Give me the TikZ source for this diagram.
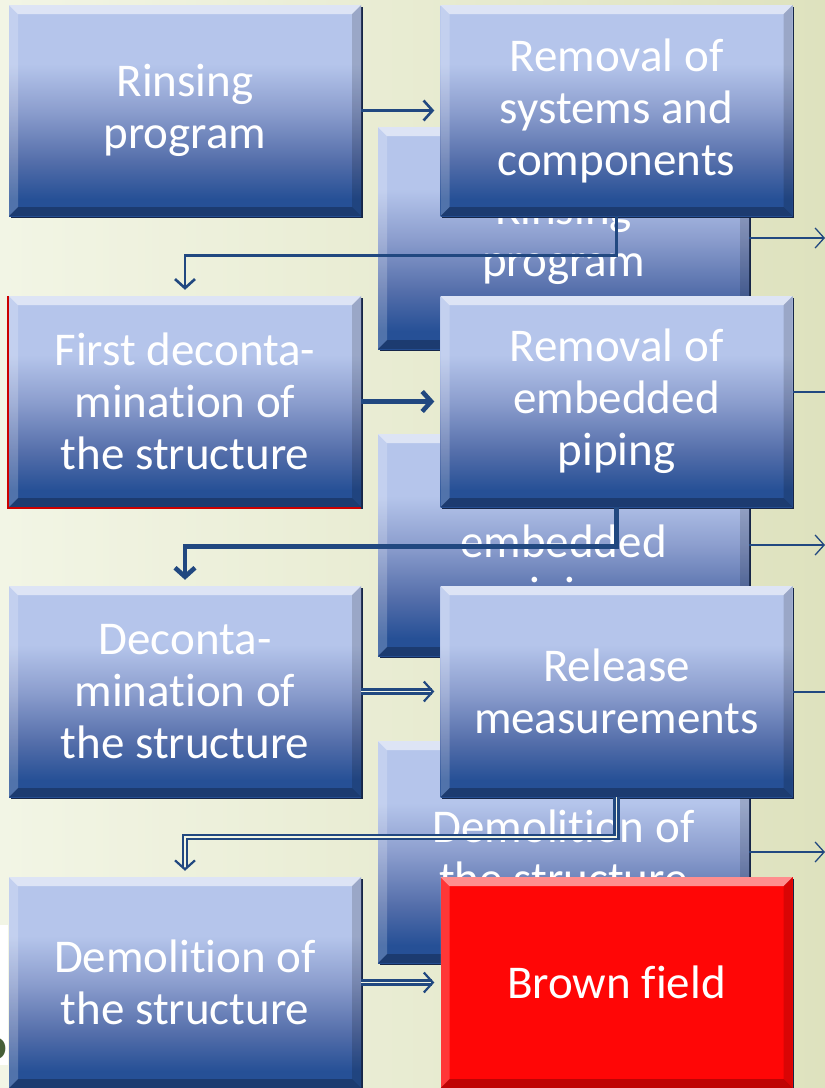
\documentclass[tikz,border=0pt]{standalone}
\usepackage{fontspec}
\setmainfont{Carlito}[Ligatures=NoCommon]
\usetikzlibrary{
    calc,
    positioning,
    arrows.meta,
    shadows
}
\definecolor{bgLeft}{RGB}{242,245,229}
\definecolor{bgRight}{RGB}{222,226,190}
\definecolor{boxTop}{RGB}{181,197,235}
\definecolor{boxMid}{RGB}{140,158,206}
\definecolor{boxLow}{RGB}{84,110,170}
\definecolor{boxBottom}{RGB}{38,80,150}
\definecolor{boxEdge}{RGB}{22,38,72}
\definecolor{linkBlue}{RGB}{33,72,128}
\definecolor{fieldRed}{RGB}{255,6,6}
\definecolor{strayGreen}{RGB}{70,95,55}

\pgfdeclareverticalshading{stepShade}{100bp}{
    color(0bp)=(boxBottom); color(29bp)=(boxBottom); color(38bp)=(boxLow);
    color(50bp)=(boxMid); color(61bp)=(boxTop); color(100bp)=(boxTop)}

\tikzset{
    >={Straight Barb[length=9pt,width=20pt]},
    % Bevelled process boxes
    bevel/.style={
        path picture={
            \path (path picture bounding box.north west) coordinate (bnw)
                  (path picture bounding box.north east) coordinate (bne)
                  (path picture bounding box.south west) coordinate (bsw)
                  (path picture bounding box.south east) coordinate (bse);
            \fill[white,opacity=.55] (bnw) -- (bne) -- ([xshift=-9pt,yshift=-9pt]bne)
                -- ([xshift=9pt,yshift=-9pt]bnw) -- cycle;
            \fill[white,opacity=.2] (bnw) -- ([xshift=9pt,yshift=-9pt]bnw)
                -- ([xshift=9pt,yshift=9pt]bsw) -- (bsw) -- cycle;
            \fill[black,opacity=.15] (bne) -- (bse) -- ([xshift=-9pt,yshift=9pt]bse)
                -- ([xshift=-9pt,yshift=-9pt]bne) -- cycle;
            \fill[black,opacity=.25] (bsw) -- ([xshift=9pt,yshift=9pt]bsw)
                -- ([xshift=-9pt,yshift=9pt]bse) -- (bse) -- cycle;
        }
    },
    boxbase/.style={
        minimum width=352pt,
        minimum height=211pt,
        text width=340pt,
        align=flush center,
        inner sep=0pt,
        text=white,
        font=\fontsize{47}{52}\selectfont,
        drop shadow={shadow xshift=1.5pt,shadow yshift=-1.5pt,fill=boxEdge,opacity=1},
        bevel
    },
    stepbox/.style={
        boxbase,
        shading=stepShade
    },
    ghostbox/.style={
        stepbox,
        minimum width=371pt,
        minimum height=222pt
    },
    fieldbox/.style={
        boxbase,
        fill=fieldRed
    },
    % Connectors
    link/.style={
        draw=linkBlue,
        line width=2.6pt,
        shorten >=6pt
    },
    linkThick/.style={
        link,
        line width=4.6pt
    },
    linkDouble/.style={
        link,
        line width=2.2pt,
        double=bgLeft,
        double distance=1.9pt
    },
    edgeLink/.style={
        draw=linkBlue,
        line width=1.3pt
    }
}

\begin{document}
\begin{tikzpicture}[x=1pt,y=-1pt]

    \useasboundingbox (0,0) rectangle (825,1088);
    \shade[left color=bgLeft,right color=bgRight] (0,0) rectangle (825,1088);

    % leftover of the slide underneath
    \fill[white] (0,925) rectangle (8,1065);
    \begin{scope}
        \clip (0,925) rectangle (8,1065);
        \node[anchor=base east,inner sep=0pt,text=strayGreen,
              font=\fontsize{44}{52}\selectfont\bfseries] (stray) at (7,1059) {o};
    \end{scope}

    % boxes of the previous frame
    \node[ghostbox] (rinseBack) at (563.5,238) {Rinsing\\program};
    \node[ghostbox] (pipingBack) at (563.5,545) {Removal of\\embedded\\piping};
    \node[ghostbox] (demolitionBack) at (563.5,852) {Demolition of\\the structure};

    \coordinate (edgeA) at (825,238);
    \coordinate (edgeB) at (825,392);
    \coordinate (edgeC) at (825,545);
    \coordinate (edgeD) at (825,692);
    \coordinate (edgeE) at (825,852);
    \draw[->,edgeLink] (rinseBack.east) -- (edgeA);
    \draw[->,edgeLink] (pipingBack.east) -- (edgeC);
    \draw[->,edgeLink] (demolitionBack.east) -- (edgeE);

    % current frame
    \node[stepbox] (rinse) at (185,110.5) {Rinsing\\program};
    \node[stepbox] (systems) at (616.5,110.5) {Removal of\\systems and\\components};
    \node[stepbox] (firstDecon) at (185,401.5) {First deconta-\\mination of\\the structure};
    \node[stepbox] (piping) at (616.5,401.5) {Removal of\\embedded\\piping};
    \node[stepbox] (decon) at (185,691.5) {Deconta-\\mination of\\the structure};
    \node[stepbox] (release) at (616.5,691.5) {Release\\measurements};
    \node[stepbox] (demolition) at (185,982.5) {Demolition of\\the structure};
    \node[fieldbox] (brownField) at (616.5,982.5) {Brown field};

    \draw[red!80!black,line width=2pt] ([xshift=-0.5pt]firstDecon.north west) |- ([yshift=-1pt]firstDecon.south east);

    \draw[edgeLink] (piping.east |- edgeB) -- (edgeB);
    \draw[edgeLink] (release.east |- edgeD) -- (edgeD);

    \draw[->,link] (rinse) -- (systems);
    \draw[->,linkThick] (firstDecon) -- (piping);
    \draw[->,linkDouble] (decon) -- (release);
    \draw[->,linkDouble] (demolition) -- (brownField);

    \draw[->,link] (systems.south) -- ++(0,39) -| (firstDecon.north);
    \draw[->,linkThick] (piping.south) -- ++(0,39) -| (decon.north);
    \draw[->,linkDouble] (release.south) -- ++(0,40) -| (demolition.north);

\end{tikzpicture}
\end{document}
